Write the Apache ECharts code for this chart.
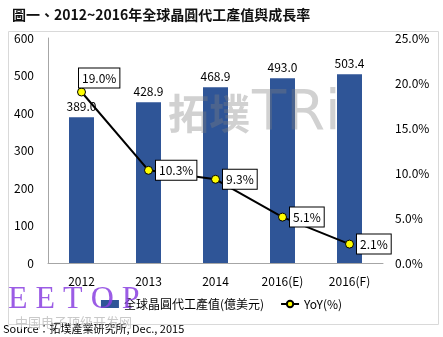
<!DOCTYPE html>
<html><head><meta charset="utf-8">
<script src="https://cdn.jsdelivr.net/npm/echarts@6/dist/echarts.min.js"></script>
<style>html,body{margin:0;padding:0;background:#fff}#c{width:443px;height:337px}</style>
</head><body><div id="c"></div>
<script>
const categories = ['2012', '2013', '2014', '2016(E)', '2016(F)'];
const revenue = [389.0, 428.9, 468.9, 493.0, 503.4];
const yoy = [19.0, 10.3, 9.3, 5.1, 2.1];
const leftTicks = [0, 600, 100];
const rightTicks = [0, 25, 5];

const font = '"Noto Sans CJK TC", "Noto Sans", sans-serif';
const chart = echarts.init(document.getElementById('c'));
chart.setOption({
  animation: false,
  textStyle: { fontFamily: font },
  title: {
    text: '圖一、2012~2016年全球晶圓代工產值與成長率',
    left: 7, top: 3,
    textStyle: { fontSize: 14, fontWeight: 'bold', color: '#111', fontFamily: font }
  },
  grid: { left: 48, right: 60, top: 38, bottom: 74 },
  legend: {
    bottom: 22, left: 'center', itemGap: 16, itemWidth: 18, itemHeight: 8,
    textStyle: { fontSize: 12, color: '#000', fontFamily: font },
    data: [
      { name: '全球晶圓代工產值(億美元)', icon: 'rect' },
      { name: 'YoY(%)' }
    ]
  },
  xAxis: {
    type: 'category', data: categories,
    axisLine: { lineStyle: { color: '#a6a6a6' } },
    axisTick: { show: false },
    axisLabel: { fontSize: 12, color: '#000', margin: 12 }
  },
  yAxis: [
    {
      type: 'value', min: leftTicks[0], max: leftTicks[1], interval: leftTicks[2],
      axisLine: { show: true, lineStyle: { color: '#a6a6a6' } },
      axisTick: { show: false },
      splitLine: { show: false },
      axisLabel: { fontSize: 12, color: '#000', margin: 14 }
    },
    {
      type: 'value', min: rightTicks[0], max: rightTicks[1], interval: rightTicks[2],
      axisLine: { show: false }, axisTick: { show: false }, splitLine: { show: false },
      axisLabel: { fontSize: 12, color: '#000', margin: 12, formatter: v => v.toFixed(1) + '%' }
    }
  ],
  graphic: [
    { type: 'rect', left: 6, top: 29, shape: { width: 430, height: 293 }, style: { fill: 'none', stroke: '#d9d9d9', lineWidth: 1 }, z: -10 },
    { type: 'text', left: 168, top: 93, style: { text: '拓墣', font: 'bold 41px "Noto Sans CJK TC"', fill: '#808080', opacity: 0.36 }, z: 10 },
    { type: 'text', left: 252, top: 86, style: { text: 'TRi', font: '56px "DejaVu Sans"', fill: '#808080', opacity: 0.36 }, z: 10 },
    { type: 'text', left: 8, top: 284, style: { text: 'E E T O P', font: '32px "Liberation Serif"', fill: '#8a3fe0', opacity: 0.85 }, z: 100 },
    { type: 'text', left: 15, top: 316, style: { text: '中国电子顶级开发网', font: '13px "Noto Sans CJK SC"', fill: '#bbbbbb', opacity: 0.8 }, z: 100 },
    { type: 'text', left: 3, top: 323, style: { text: 'Source：拓墣產業研究所, Dec., 2015', font: '11px "Noto Sans CJK TC"', fill: '#000' }, z: 50 }
  ],
  series: [
    {
      name: '全球晶圓代工產值(億美元)', type: 'bar', data: revenue, barWidth: 25,
      itemStyle: { color: '#2f5597' },
      label: { show: true, position: 'top', fontSize: 12, color: '#000', formatter: p => p.value.toFixed(1) },
      z: 2
    },
    {
      name: 'YoY(%)', type: 'line', yAxisIndex: 1, data: yoy,
      symbol: 'circle', symbolSize: 8,
      lineStyle: { color: '#000', width: 2 },
      itemStyle: { color: '#ffff00', borderColor: '#000', borderWidth: 1 },
      label: {
        show: true, position: 'right', distance: 3, fontSize: 12, color: '#000',
        backgroundColor: '#fff', borderColor: '#000', borderWidth: 1, padding: [4, 3, 3, 3],
        formatter: p => p.value.toFixed(1) + '%'
      },
      labelLayout: p => p.dataIndex === 0 ? { dx: -10, dy: -14 } : {},
      z: 5
    }
  ]
});
</script></body></html>
